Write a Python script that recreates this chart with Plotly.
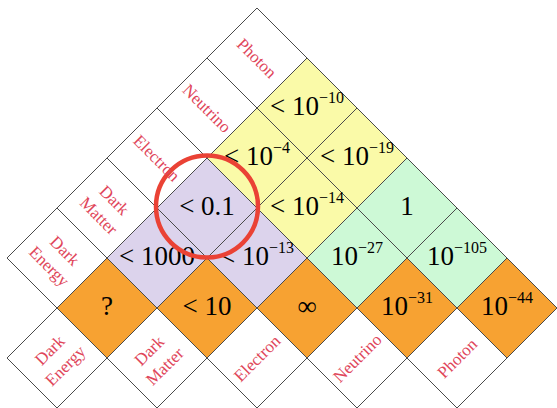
import plotly.graph_objects as go

# Particles along both edges of the triangle
particles = ["Dark<br>Energy", "Dark<br>Matter", "Electron", "Neutrino", "Photon"]

# Upper-triangle cells: (row, col, base, exponent, group)
cells = [
    (0, 0, "?", "", "self"),
    (1, 1, "&lt; 10", "", "self"),
    (2, 2, "∞", "", "self"),
    (3, 3, "10", "−31", "self"),
    (4, 4, "10", "−44", "self"),
    (0, 1, "&lt; 1000", "", "dark"),
    (0, 2, "&lt; 0.1", "", "dark"),
    (1, 2, "&lt; 10", "−13", "dark"),
    (0, 3, "&lt; 10", "−4", "nu"),
    (0, 4, "&lt; 10", "−10", "nu"),
    (1, 3, "&lt; 10", "−14", "nu"),
    (1, 4, "&lt; 10", "−19", "nu"),
    (2, 3, "10", "−27", "sm"),
    (2, 4, "1", "", "sm"),
    (3, 4, "10", "−105", "sm"),
]
highlight = (0, 2)

fills = {"self": "#f7a232", "dark": "#dcd3ec", "nu": "#fafaa8", "sm": "#cdf9d6", "label": "#ffffff"}
EDGE = "#4a4a4a"
LABEL_RED = "#e0465a"
SERIF = "Liberation Serif, Times New Roman, serif"


def pos(a, b):
    # rotated lattice: each cell is a diamond of half-diagonal 1
    return a + b, b - a


def diamond(fig, a, b, color):
    x, y = pos(a, b)
    fig.add_trace(go.Scatter(
        x=[x - 1, x, x + 1, x, x - 1], y=[y, y + 1, y, y - 1, y],
        mode="lines", fill="toself", fillcolor=color,
        line=dict(color=EDGE, width=1), hoverinfo="skip", showlegend=False))


fig = go.Figure()

for a, b, *_, grp in cells:
    diamond(fig, a, b, fills[grp])

n = len(particles)
for i in range(n):
    diamond(fig, i, i - 1, fills["label"])   # bottom row
    diamond(fig, -1, i, fills["label"])      # left edge

xs, ys, txt = [], [], []
for a, b, base, exp, _ in cells:
    x, y = pos(a, b)
    t = base
    if exp:
        t += f"<sup><span style='font-size:16px'>{exp}</span></sup>"
    xs.append(x); ys.append(y); txt.append(t)
fig.add_trace(go.Scatter(
    x=xs, y=ys, text=txt, mode="text", textposition="middle center",
    textfont=dict(family=SERIF, size=27, color="#000000"),
    hoverinfo="skip", showlegend=False))

for i, name in enumerate(particles):
    x, y = pos(i, i - 1)
    fig.add_annotation(x=x, y=y, text=name, showarrow=False, textangle=-45,
                       font=dict(family=SERIF, size=17, color=LABEL_RED))
    x, y = pos(-1, i)
    fig.add_annotation(x=x, y=y, text=name, showarrow=False, textangle=45,
                       font=dict(family=SERIF, size=17, color=LABEL_RED))

cx, cy = pos(*highlight)
r = 1.02
fig.add_shape(type="circle", xref="x", yref="y", x0=cx - r, x1=cx + r,
              y0=cy + 0.03 - r, y1=cy + 0.03 + r,
              line=dict(color="#ea4235", width=4.5), layer="above")

fig.update_xaxes(range=[-2.14, 9.0], visible=False, fixedrange=True)
fig.update_yaxes(range=[-2.0, 6.16], visible=False, fixedrange=True)
fig.update_layout(width=557, height=408, margin=dict(l=0, r=0, t=0, b=0),
                  paper_bgcolor="white", plot_bgcolor="white")

fig.write_html("out.html", config={"displayModeBar": False},
               post_script="document.body.style.margin='0';")
